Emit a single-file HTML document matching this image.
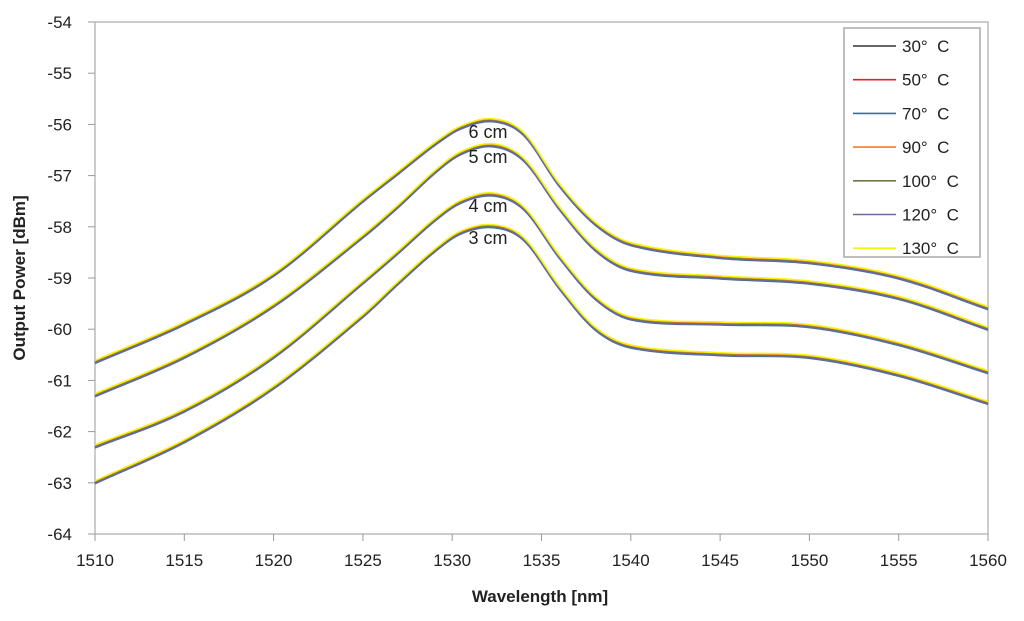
<!DOCTYPE html>
<html><head><meta charset="utf-8"><style>
body{margin:0;background:#fff}
svg text{font-family:"Liberation Sans",sans-serif;fill:#222}
</style></head><body>
<svg id="chart" width="1024" height="616">
<g id="axes"></g><g id="series"></g>
<g id="legend"><rect x="844" y="28" width="136" height="229" fill="#fff" stroke="#aaa" stroke-width="1.5"/></g>
<text x="540" y="602" text-anchor="middle" font-size="17" font-weight="bold">Wavelength [nm]</text>
<text transform="translate(25,278) rotate(-90)" text-anchor="middle" font-size="17" font-weight="bold">Output Power [dBm]</text>
</svg>
<script>
const wl=[1510,1515,1520,1525,1527,1529,1530.5,1532.3,1534,1536,1538,1540,1545,1550,1555,1560];
const s6=[-60.65,-59.9,-58.95,-57.5,-56.95,-56.4,-56.07,-55.93,-56.2,-57.2,-57.95,-58.35,-58.6,-58.7,-59.0,-59.6];
const s5=[-61.3,-60.55,-59.55,-58.2,-57.6,-56.95,-56.57,-56.42,-56.7,-57.65,-58.45,-58.85,-59.0,-59.1,-59.4,-60.0];
const s4=[-62.3,-61.6,-60.55,-59.1,-58.5,-57.88,-57.52,-57.38,-57.65,-58.6,-59.4,-59.8,-59.9,-59.95,-60.3,-60.85];
const s3=[-63.0,-62.2,-61.15,-59.75,-59.1,-58.48,-58.12,-58.0,-58.25,-59.2,-60.0,-60.35,-60.5,-60.55,-60.9,-61.45];
const bundleNames=["6 cm","5 cm","4 cm","3 cm"];
const temps=["30°  C","50°  C","70°  C","90°  C","100°  C","120°  C","130°  C"];
const tempOffsets=[0.02,0.03,-0.02,0.01,0,-0.01,0.04];
const colors=["#333","#d22","#3a6e9c","#f08030","#6b7a4a","#6a6a9a","#f4f40a"];
const xTicks=[1510,1515,1520,1525,1530,1535,1540,1545,1550,1555,1560];
const yTicks=[-54,-55,-56,-57,-58,-59,-60,-61,-62,-63,-64];
const X=v=>95+(v-1510)*(893/50), Y=v=>22+(-54-v)*51.2;
const NS="http://www.w3.org/2000/svg";
function mk(t,a,p){const e=document.createElementNS(NS,t);for(const k in a)e.setAttribute(k,a[k]);p.appendChild(e);return e;}
const ax=document.getElementById('axes');
mk('rect',{x:95,y:22,width:893,height:512,fill:'none',stroke:'#bbb','stroke-width':1.5},ax);
yTicks.forEach(v=>{mk('line',{x1:88,x2:95,y1:Y(v),y2:Y(v),stroke:'#999'},ax);
 const t=mk('text',{x:72,y:Y(v)+6,'text-anchor':'end','font-size':17},ax);t.textContent=v;
 
 });
xTicks.forEach(v=>{mk('line',{x1:X(v),x2:X(v),y1:534,y2:541,stroke:'#999'},ax);
 const t=mk('text',{x:X(v),y:566,'text-anchor':'middle','font-size':17},ax);t.textContent=v;
 
 });
function path(pts){let d=`M${pts[0][0]},${pts[0][1]}`;
 for(let i=0;i<pts.length-1;i++){const p0=pts[Math.max(0,i-1)],p1=pts[i],p2=pts[i+1],p3=pts[Math.min(pts.length-1,i+2)];
 const h=p2[0]-p1[0];
 const m1=(p2[1]-p0[1])/(p2[0]-p0[0]||1), m2=(p3[1]-p1[1])/(p3[0]-p1[0]||1);
 d+=`C${p1[0]+h/3},${p1[1]+m1*h/3} ${p2[0]-h/3},${p2[1]-m2*h/3} ${p2[0]},${p2[1]}`;}return d;}
const sg=document.getElementById('series');
[s6,s5,s4,s3].forEach((s,bi)=>{
 temps.forEach((tn,ti)=>{const pts=wl.map((w,i)=>[X(w),Y(s[i]+tempOffsets[ti])]);
  const p=mk('path',{d:path(pts),fill:'none',stroke:colors[ti],'stroke-width':ti==6?1.6:1.4},sg);
  
  });
 const lab=mk('text',{x:488,y:Y(s[7])+17,'text-anchor':'middle','font-size':18},sg);lab.textContent=bundleNames[bi];
 
 
});
const lg=document.getElementById('legend');
temps.forEach((t,i)=>{const y=46+i*33.7;
 const g=mk('g',{},lg);
 
 
 mk('line',{x1:853,x2:896,y1:y,y2:y,stroke:colors[i],'stroke-width':1.6},g);
 const tx=mk('text',{x:902,y:y+6,'font-size':17,'xml:space':'preserve'},g);tx.textContent=t;tx.style.whiteSpace='pre';});
</script>
</body></html>
